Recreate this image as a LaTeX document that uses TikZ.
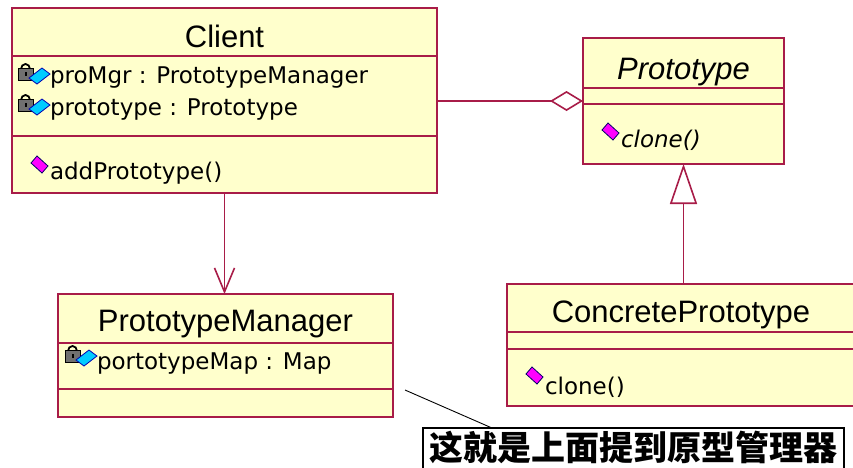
\documentclass[tikz,border=0pt]{standalone}
\usepackage{fontspec}
\setmainfont{Liberation Sans}
\newfontfamily\memberfont{DejaVu Sans}
\newfontfamily\cjk{Noto Sans CJK SC}
\usepackage{tikz}
\usetikzlibrary{arrows.meta}
\definecolor{roseline}{RGB}{168,28,72}
\definecolor{rosefill}{RGB}{255,255,204}
\definecolor{lockgray}{RGB}{112,112,112}
\definecolor{attrblue}{RGB}{0,204,255}
\definecolor{opmagenta}{RGB}{255,0,255}
\tikzset{
  privattr/.pic={
    \draw [black, line width=1.8pt] (4,7) arc (180:360:4.5 and 5);
    \filldraw [fill=lockgray, draw=black, line width=0.8pt] (1,6) rectangle (16,18);
    \fill [black] (7.5,10) rectangle (10,14);
    \filldraw [fill=attrblue, draw=blue!70!black, line width=0.8pt] (12,16) -- (25,6) -- (33,12) -- (20,22) -- cycle;
  },
  pubop/.pic={
    \filldraw [fill=opmagenta, draw=blue!40!black, line width=0.8pt] (0,7) -- (6,0) -- (17,10) -- (11,17) -- cycle;
  }
}

\begin{document}
\begin{tikzpicture}[x=1pt,y=-1pt]
\tikzstyle{every node}+=[inner sep=0pt, outer sep=0pt]
\tikzstyle{classbox}=[draw=roseline, fill=rosefill, line width=1.8pt, rectangle]
\tikzstyle{classname}=[anchor=base, font=\fontsize{31}{36}\selectfont]
\tikzstyle{member}=[anchor=base west, font=\memberfont\fontsize{23}{28}\selectfont]
\tikzstyle{divider}=[draw=roseline, line width=1.8pt]
\tikzstyle{link}=[draw=roseline, line width=1.6pt]
\useasboundingbox (0,0) rectangle (853,467);
% class boxes
\node [classbox, minimum width=425pt, minimum height=185pt] (client) at (224.5,100.5) {};
\node [classbox, minimum width=201pt, minimum height=126pt] (proto) at (683.5,101) {};
\node [classbox, minimum width=335pt, minimum height=123pt] (mgr) at (225.5,355.5) {};
\node [classbox, minimum width=351pt, minimum height=122pt] (concrete) at (682.5,345) {};
% Client
\draw [divider] (12,56) -- (437,56);
\draw [divider] (12,136) -- (437,136);
\node [classname] (clientname) at (224.5,47) {Client};
\pic at (17,62) {privattr};
\node [member] (promgr) at (50,83) {proMgr : PrototypeManager};
\pic at (17,93) {privattr};
\node [member] (protoattr) at (50,115) {prototype : Prototype};
\pic at (31,156) {pubop};
\node [member] (addproto) at (50,179) {addPrototype()};
% Prototype
\draw [divider] (583,88) -- (784,88);
\draw [divider] (583,104) -- (784,104);
\node [classname, font=\itshape\fontsize{31}{36}\selectfont] (protoname) at (683.5,79) {Prototype};
\pic at (602,123) {pubop};
\node [member, font=\memberfont\itshape\fontsize{23}{28}\selectfont] (protoclone) at (621,147) {clone()};
% PrototypeManager
\draw [divider] (58,343) -- (393,343);
\draw [divider] (58,389) -- (393,389);
\node [classname] (mgrname) at (225.5,331) {PrototypeManager};
\pic at (64,344) {privattr};
\node [member] (protomap) at (97,369) {portotypeMap : Map};
% ConcretePrototype
\draw [divider] (507,332) -- (858,332);
\draw [divider] (507,349) -- (858,349);
\node [classname] (concretename) at (681,322) {ConcretePrototype};
\pic at (526,367) {pubop};
\node [member] (concreteclone) at (545,394) {clone()};
% relations
\draw [link, -{Diamond[open, fill=white, length=33pt, width=20pt]}] (client.east |- proto.west) -- (proto.west);
\draw [link, -{Triangle[open, fill=white, length=40pt, width=27pt]}] (concrete.north -| proto.south) -- (proto.south);
\draw [link, -{Straight Barb[length=24pt, width=20pt]}] (client.south) -- (client.south |- mgr.north);
% note
\node [draw=black, line width=1.2pt, anchor=north west, minimum width=421pt, text height=32pt, text depth=14pt, font=\cjk\bfseries\fontsize{34}{34}\selectfont] (note) at (423,428) {这就是上面提到原型管理器};
\coordinate (notestart) at (405,390);
\draw [black, line width=0.9pt] (notestart) -- ([xshift=69pt]note.north west);
\end{tikzpicture}
\end{document}
